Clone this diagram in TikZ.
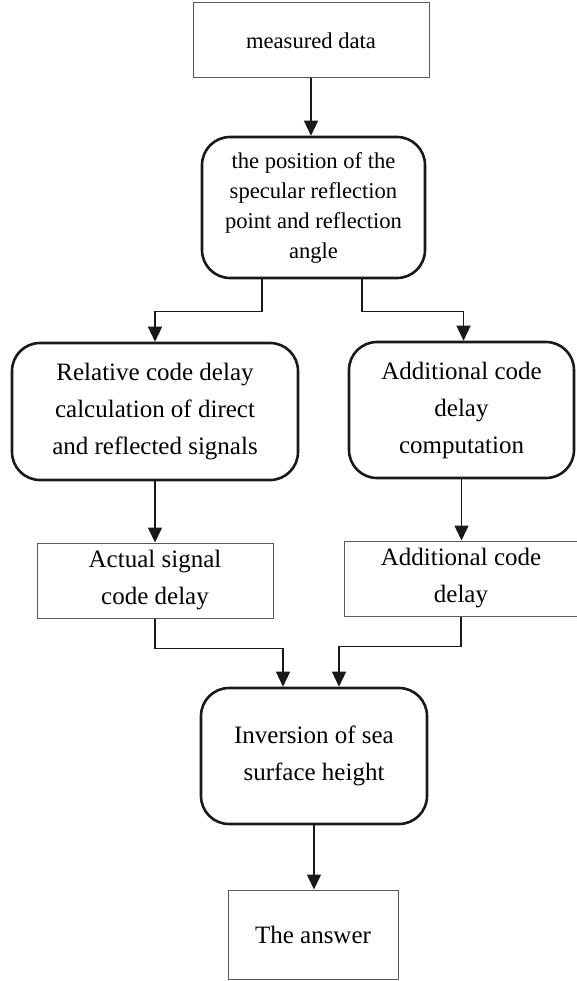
\documentclass[tikz,border=0pt]{standalone}
\usepackage{fontspec}
\setmainfont{Liberation Serif}
\usetikzlibrary{arrows.meta}
\begin{document}
\begin{tikzpicture}[x=1pt,y=-1pt,
  rbox/.style={draw=black!90, line width=2.6pt, rounded corners=28pt, align=center,
    inner sep=0pt, font=\fontsize{25}{37}\selectfont},
  sbox/.style={draw=black!65, line width=1pt, align=center, inner sep=0pt,
    font=\fontsize{25}{37}\selectfont},
  arr/.style={draw=black!90, line width=1.5pt, -{Triangle[length=15pt,width=14pt]}}]
\useasboundingbox (0,0) rectangle (577,981);
\node[sbox, minimum width=236pt, minimum height=75pt, font=\fontsize{22.6}{30}\selectfont] (md) at (311,40.5) {measured data};
\node[rbox, minimum width=223pt, minimum height=141pt, font=\fontsize{22.6}{30}\selectfont] (pos) at (313.5,207.5)
  {the position of the\\specular reflection\\point and reflection\\angle};
\node[rbox, minimum width=286pt, minimum height=137pt] (rel) at (155,411.5)
  {Relative code delay\\calculation of direct\\and reflected signals};
\node[rbox, minimum width=225pt, minimum height=136pt] (add) at (461.5,410)
  {Additional code\\delay\\computation};
\node[sbox, minimum width=236pt, minimum height=75pt] (act) at (155,580.5)
  {Actual signal\\code delay};
\node[sbox, minimum width=234pt, minimum height=75pt] (addd) at (461,578.5)
  {Additional code\\delay};
\node[rbox, minimum width=226pt, minimum height=136pt] (inv) at (314,756)
  {Inversion of sea\\surface height};
\node[sbox, minimum width=170pt, minimum height=89pt] (ans) at (313,934.5)
  {The answer};
\draw[arr] (md.south) -- (md.south |- pos.north);
\draw[arr] ([xshift=-51.5pt]pos.south) -- ++(0,32) -| (rel.north);
\draw[arr] ([xshift=48.5pt]pos.south) -- ++(0,32) -| ([xshift=2pt]add.north);
\draw[arr] (rel.south) -- (act.north);
\draw[arr] (add.south) -- (add.south |- addd.north);
\draw[arr] (act.south) -- ++(0,30) -| ([xshift=-31pt]inv.north);
\draw[arr] (addd.south) -- ++(0,30) -| ([xshift=25pt]inv.north);
\draw[arr] (inv.south) -- (inv.south |- ans.north);
\end{tikzpicture}
\end{document}
